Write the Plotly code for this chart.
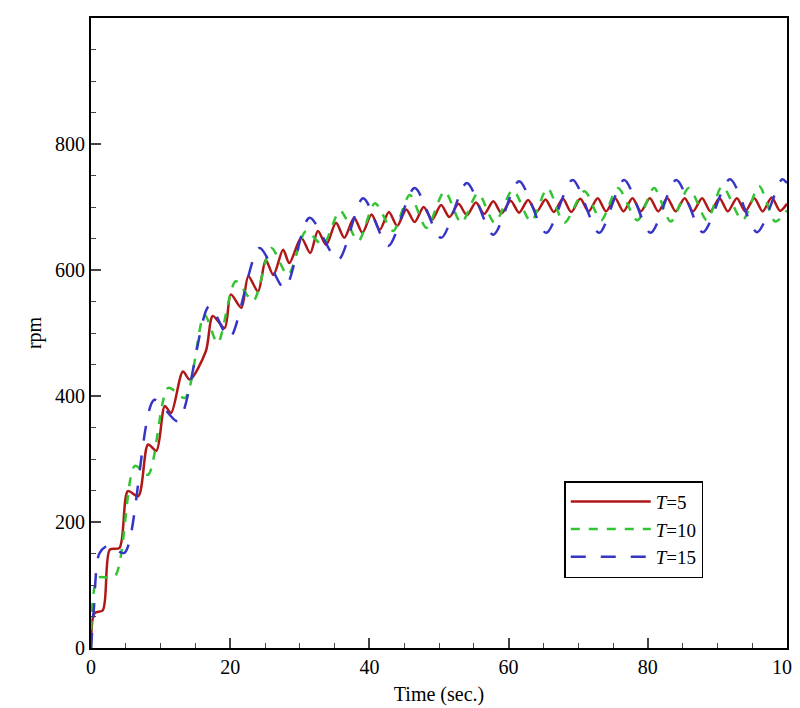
import plotly.graph_objects as go

# values (peaks / troughs of each curve)
t5 = [0, 0.5, 1.7, 2.7, 4.1, 5.3, 6.8, 8.2, 9.4, 10.6, 11.5, 13.2, 14.2, 16.5, 17.5, 19.2, 20.1,
      21.6, 22.6, 24.0, 25.1, 26.2, 27.6, 28.5, 30.2, 31.5, 32.6, 33.8, 35.2, 36.4, 37.8, 39.0,
      40.3, 41.5, 42.8, 44.0, 45.3, 46.5, 47.8, 49.0, 50.3, 51.5, 52.8, 54.0, 55.3, 56.5, 57.8,
      59.0, 60.3, 61.5, 62.8, 64.0, 65.3, 66.5, 67.8, 69.0, 70.3, 71.5, 72.8, 74.0, 75.3, 76.5,
      77.8, 79.0, 80.3, 81.5, 82.8, 84.0, 85.3, 86.5, 87.8, 89.0, 90.3, 91.5, 92.8, 94.0, 95.3,
      96.5, 97.8, 99.0, 100]
rpm5 = [0, 55, 60, 156, 159, 249, 241, 323, 313, 384, 373, 439, 426, 471, 527, 508, 561,
        540, 590, 566, 616, 592, 632, 611, 651, 627, 662, 640, 675, 651, 683, 659,
        688, 664, 692, 670, 696, 676, 700, 680, 703, 684, 705, 687, 707, 689, 709,
        690, 710, 691, 711, 692, 712, 692, 713, 692, 713, 693, 714, 693, 714, 693,
        714, 693, 714, 693, 714, 693, 714, 693, 714, 693, 714, 693, 714, 693, 714,
        693, 715, 694, 705]

t10 = [0, 1.0, 3.4, 6.3, 8.2, 11.1, 13.5, 16.3, 18.2, 20.8, 23.3, 25.9, 28.3, 30.9, 33.3, 35.8,
       38.4, 40.8, 43.4, 45.8, 48.2, 50.8, 53.2, 55.6, 58.0, 60.6, 63.2, 65.6, 68.0, 70.9, 73.3,
       75.7, 78.5, 80.9, 83.3, 85.9, 88.5, 90.7, 93.6, 96.0, 98.3, 100]
rpm10 = [0, 111, 113, 289, 275, 413, 397, 529, 484, 582, 551, 635, 592, 662, 640, 694,
         646, 706, 662, 719, 667, 725, 675, 722, 675, 727, 677, 730, 675, 725, 679,
         730, 679, 730, 677, 730, 679, 733, 679, 733, 677, 695]

t15 = [0, 0.4, 1.2, 2.5, 4.8, 9.1, 12.5, 17.0, 19.9, 24.2, 27.8, 31.4, 35.5, 39.1, 42.7, 46.5,
       50.3, 54.0, 57.8, 61.5, 65.4, 69.2, 73.0, 76.6, 80.4, 84.1, 87.9, 91.8, 95.7, 99.3, 100]
rpm15 = [0, 60, 150, 163, 151, 394, 360, 543, 492, 635, 571, 683, 616, 714, 638, 730,
         651, 738, 656, 741, 659, 743, 659, 743, 659, 743, 660, 744, 660, 744, 738]

fig = go.Figure()
fig.add_trace(go.Scatter(x=t5, y=rpm5, mode="lines", name="<i>T</i>=5",
                         line=dict(color="#b01818", width=2.5, shape="spline", smoothing=0.8)))
fig.add_trace(go.Scatter(x=t10, y=rpm10, mode="lines", name="<i>T</i>=10",
                         line=dict(color="#33c433", width=2.5, dash="dash", shape="spline",
                                   smoothing=0.8)))
fig.add_trace(go.Scatter(x=t15, y=rpm15, mode="lines", name="<i>T</i>=15",
                         line=dict(color="#3535c8", width=2.5, dash="longdash", shape="spline",
                                   smoothing=0.8)))

axis_font = dict(family="Liberation Serif", size=20, color="black")
fig.update_layout(
    width=800, height=708,
    margin=dict(l=83, r=21, t=10, b=68),
    plot_bgcolor="white", paper_bgcolor="white",
    font=axis_font,
    legend=dict(x=0.68, y=0.265, xanchor="left", yanchor="top",
                bordercolor="black", borderwidth=1.5, bgcolor="white",
                font=dict(family="Liberation Serif", size=19), itemwidth=80,
                tracegroupgap=6),
)
fig.update_xaxes(range=[0, 100], tickvals=[0, 20, 40, 60, 80, 100], automargin=False,
                 ticks="inside", ticklen=10, tickwidth=2,
                 minor=dict(dtick=5, ticks="inside", ticklen=5, tickwidth=1),
                 showline=True, linecolor="black", linewidth=2, mirror=True,
                 showgrid=False, zeroline=False,
                 title=dict(text="Time (sec.)", font=axis_font, standoff=10))
fig.update_yaxes(range=[0, 1000], tickvals=[0, 200, 400, 600, 800, 1000], automargin=False,
                 ticks="inside", ticklen=10, tickwidth=2,
                 minor=dict(dtick=50, ticks="inside", ticklen=5, tickwidth=1),
                 showline=True, linecolor="black", linewidth=2, mirror=True,
                 showgrid=False, zeroline=False,
                 title=dict(text="rpm", font=axis_font, standoff=8))

fig.write_html("out.html")
